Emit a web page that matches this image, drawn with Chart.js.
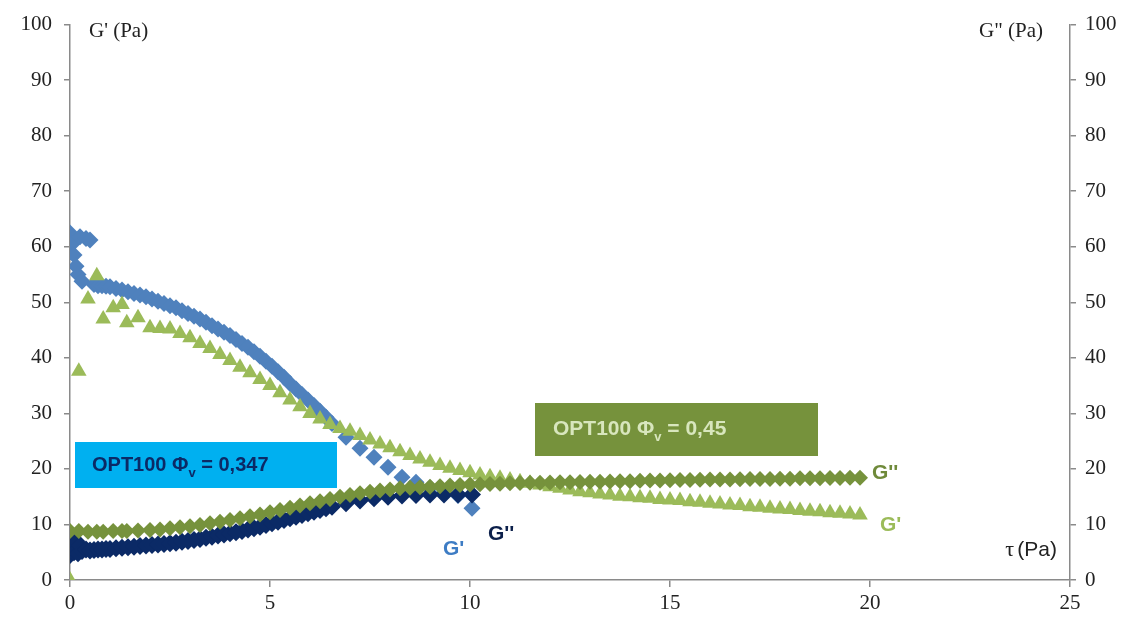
<!DOCTYPE html>
<html>
<head>
<meta charset="utf-8">
<script src="https://cdn.jsdelivr.net/npm/chart.js@4.4.1/dist/chart.umd.min.js"></script>
<style>
  html, body { margin: 0; padding: 0; background: #fff; }
  #wrap { width: 1137px; height: 626px; }
</style>
</head>
<body>
<div id="wrap"><canvas id="chartModulos" width="1137" height="626"></canvas></div>
<script>
// =========================================================
// DATOS
// =========================================================
// OPT100 Φv = 0,347
const tauA = [0, 0.05, 0.1, 0.15, 0.2, 0.25, 0.3, 0.4, 0.5, 0.6, 0.7, 0.8, 0.9, 1.0,
  1.15, 1.3, 1.45, 1.6, 1.75, 1.9, 2.05, 2.2, 2.35, 2.5, 2.65, 2.8, 2.95, 3.1, 3.25,
  3.4, 3.55, 3.7, 3.85, 4.0, 4.15, 4.3, 4.45, 4.6, 4.75, 4.9, 5.05, 5.2, 5.35, 5.5,
  5.65, 5.8, 5.95, 6.1, 6.25, 6.4, 6.55, 6.9, 7.25, 7.6, 7.95, 8.3, 8.65, 9.0, 9.35,
  9.7, 10.05];
const gPrimaA = [62.5, 60.5, 58.5, 56.5, 55, 61.8, 53.8, 61.5, 61.2, 53.2, 53, 53, 52.9, 52.8,
  52.5, 52.2, 51.9, 51.6, 51.3, 51, 50.6, 50.2, 49.8, 49.4, 49, 48.5, 48, 47.5, 47,
  46.4, 45.8, 45.2, 44.6, 44, 43.3, 42.6, 41.9, 41.1, 40.3, 39.4, 38.5, 37.5, 36.5, 35.4,
  34.4, 33.4, 32.4, 31.4, 30.4, 29.3, 28.2, 25.7, 23.7, 22.1, 20.3, 18.5, 17.6, 16.6, 15.8,
  15.2, 12.9];
const gSegA = [4.5, 6.5, 5, 7, 4.8, 6.2, 5.2, 5.5, 5.3, 5.4, 5.5, 5.5, 5.6, 5.6,
  5.7, 5.8, 5.9, 6.0, 6.1, 6.2, 6.3, 6.4, 6.5, 6.6, 6.7, 6.9, 7.0, 7.2, 7.4,
  7.6, 7.8, 8.0, 8.2, 8.4, 8.6, 8.8, 9.1, 9.3, 9.6, 9.9, 10.2, 10.5, 10.8, 11.1,
  11.4, 11.7, 12.0, 12.3, 12.6, 12.9, 13.2, 13.8, 14.3, 14.7, 15.0, 15.2, 15.3, 15.4, 15.4,
  15.4, 15.4];

// OPT100 Φv = 0,45
const tauB = [0, 0.22, 0.45, 0.67, 0.83, 1.08, 1.3, 1.42, 1.7, 2.0, 2.25, 2.5, 2.75, 3.0,
  3.25, 3.5, 3.75, 4.0, 4.25, 4.5, 4.75, 5.0, 5.25, 5.5, 5.75, 6.0, 6.25, 6.5, 6.75,
  7.0, 7.25, 7.5, 7.75, 8.0, 8.25, 8.5, 8.75, 9.0, 9.25, 9.5, 9.75, 10.0, 10.25, 10.5,
  10.75, 11.0, 11.25, 11.5, 11.75, 12.0, 12.25, 12.5, 12.75, 13.0, 13.25, 13.5, 13.75,
  14.0, 14.25, 14.5, 14.75, 15.0, 15.25, 15.5, 15.75, 16.0, 16.25, 16.5, 16.75, 17.0,
  17.25, 17.5, 17.75, 18.0, 18.25, 18.5, 18.75, 19.0, 19.25, 19.5, 19.75];
const gPrimaB = [0, 37.6, 50.6, 54.8, 47, 49, 49.6, 46.3, 47.2, 45.4, 45.3, 45.2, 44.4, 43.6,
  42.6, 41.7, 40.6, 39.5, 38.3, 37.3, 36.1, 35, 33.7, 32.4, 31.2, 30, 29, 28, 27.3,
  26.8, 26.0, 25.2, 24.5, 23.8, 23.1, 22.4, 21.8, 21.2, 20.6, 20.1, 19.7, 19.3, 18.9, 18.6,
  18.3, 18.0, 17.7, 17.4, 17.1, 16.8, 16.5, 16.2, 15.9, 15.7, 15.5, 15.3, 15.1,
  15.0, 14.8, 14.7, 14.5, 14.4, 14.3, 14.1, 14.0, 13.8, 13.7, 13.5, 13.4, 13.2,
  13.1, 12.9, 12.8, 12.7, 12.5, 12.4, 12.3, 12.1, 12.0, 11.9, 11.7];
const gSegB = [8.8, 8.8, 8.7, 8.7, 8.7, 8.8, 8.8, 8.8, 8.9, 9.0, 9.1, 9.3, 9.5, 9.7,
  9.9, 10.2, 10.5, 10.8, 11.1, 11.5, 11.8, 12.2, 12.6, 13.0, 13.4, 13.8, 14.2, 14.6, 15.0,
  15.3, 15.6, 15.9, 16.1, 16.3, 16.5, 16.6, 16.7, 16.8, 16.9, 17.0, 17.1, 17.2, 17.25, 17.3,
  17.35, 17.4, 17.45, 17.5, 17.5, 17.55, 17.6, 17.6, 17.65, 17.7, 17.7, 17.75, 17.8,
  17.8, 17.85, 17.9, 17.9, 17.95, 18.0, 18.0, 18.05, 18.1, 18.1, 18.1, 18.15, 18.2,
  18.2, 18.2, 18.25, 18.25, 18.3, 18.3, 18.3, 18.35, 18.35, 18.4, 18.4];

const ticksX = [0, 5, 10, 15, 20, 25];
const ticksY = [0, 10, 20, 30, 40, 50, 60, 70, 80, 90, 100];

// =========================================================
// HELPERS
// =========================================================
const pares = (xs, ys) => xs.map((x, i) => ({ x: x, y: ys[i] }));

const SERIF = '"Liberation Serif", "Times New Roman", serif';
const SANS  = '"Liberation Sans", Arial, sans-serif';

function ejeY(pos) {
    return {
        type: 'linear', position: pos, min: 0, max: 100,
        afterBuildTicks: s => { s.ticks = ticksY.map(v => ({ value: v })); },
        afterFit: s => { s.width = pos === 'left' ? 70 : 67; },
        grid: { drawOnChartArea: false, drawTicks: true, tickLength: 6, color: '#8a8a8a', lineWidth: 1.5 },
        border: { color: '#8a8a8a', width: 1.5 },
        ticks: { color: '#222', padding: pos === 'left' ? 12 : 9, font: { family: SERIF, size: 21 } }
    };
}

// textos y cajas de anotación
const anotaciones = {
    id: 'anotaciones',
    afterDatasetsDraw(chart) {
        const c = chart.ctx;
        c.save();
        c.textBaseline = 'middle';

        // caja cian Φv = 0,347
        c.fillStyle = '#00b0f0';
        c.fillRect(75, 442, 262, 46);
        c.fillStyle = '#0b2a66';
        c.font = 'bold 20px ' + SANS;
        c.textAlign = 'left';
        let x = 92;
        c.fillText('OPT100 Φ', x, 465);
        x += c.measureText('OPT100 Φ').width;
        c.font = 'bold 13px ' + SANS;
        c.fillText('v', x, 473);
        x += c.measureText('v').width;
        c.font = 'bold 20px ' + SANS;
        c.fillText(' = 0,347', x, 465);

        // caja verde Φv = 0,45
        c.fillStyle = '#76923c';
        c.fillRect(535, 403, 283, 53);
        c.fillStyle = '#d8e6bd';
        c.font = 'bold 21px ' + SANS;
        x = 553;
        c.fillText('OPT100 Φ', x, 429);
        x += c.measureText('OPT100 Φ').width;
        c.font = 'bold 13px ' + SANS;
        c.fillText('v', x, 437);
        x += c.measureText('v').width;
        c.font = 'bold 21px ' + SANS;
        c.fillText(' = 0,45', x, 429);

        // etiquetas de series
        c.font = 'bold 21px ' + SANS;
        c.fillStyle = '#3d7cc4'; c.fillText("G'", 443, 549);
        c.fillStyle = '#0b1f4a'; c.fillText("G''", 488, 534);
        c.fillStyle = '#6f8a3a'; c.fillText("G''", 872, 473);
        c.fillStyle = '#9bbb59'; c.fillText("G'", 880, 525);

        // títulos de ejes
        c.fillStyle = '#222';
        c.font = '21px ' + SERIF;
        c.fillText("G' (Pa)", 89, 31);
        c.textAlign = 'right';
        c.fillText('G" (Pa)', 1043, 31);
        c.font = '21px ' + SANS;
        c.fillText('(Pa)', 1057, 550);
        c.font = '22px ' + SERIF;
        c.fillText('τ', 1014, 550);
        c.restore();
    }
};

// =========================================================
// GRÁFICO
// =========================================================
const chartModulos = new Chart(document.getElementById('chartModulos'), {
    type: 'scatter',
    data: {
        datasets: [
            { label: "G'' 0,45",  data: pares(tauB, gSegB),   yAxisID: 'y2', order: 0,
              pointStyle: 'rectRot',  pointRadius: 8, backgroundColor: '#76923c', borderColor: '#76923c', borderWidth: 0 },
            { label: "G' 0,45",   data: pares(tauB, gPrimaB), yAxisID: 'y',  order: 1,
              pointStyle: 'triangle', pointRadius: 9, backgroundColor: '#9bbb59', borderColor: '#9bbb59', borderWidth: 0 },
            { label: "G'' 0,347", data: pares(tauA, gSegA),   yAxisID: 'y2', order: 2,
              pointStyle: 'rectRot',  pointRadius: 9, backgroundColor: '#0b2a66', borderColor: '#0b2a66', borderWidth: 0 },
            { label: "G' 0,347",  data: pares(tauA, gPrimaA), yAxisID: 'y',  order: 3,
              pointStyle: 'rectRot',  pointRadius: 8.5, backgroundColor: '#4f81bd', borderColor: '#4f81bd', borderWidth: 0 }
        ]
    },
    options: {
        responsive: false,
        animation: false,
        layout: { padding: { top: 22, left: 0, right: 0, bottom: 0 } },
        plugins: { legend: { display: false }, tooltip: { enabled: false } },
        scales: {
            x: {
                type: 'linear', position: 'bottom', min: 0, max: 25,
                afterBuildTicks: s => { s.ticks = ticksX.map(v => ({ value: v })); },
                afterFit: s => { s.height = 46; },
                grid: { drawOnChartArea: false, drawTicks: true, tickLength: 7, color: '#8a8a8a', lineWidth: 1.5 },
                border: { color: '#8a8a8a', width: 1.5 },
                ticks: { color: '#222', padding: 4, maxRotation: 0, font: { family: SERIF, size: 21 } }
            },
            y:  ejeY('left'),
            y2: ejeY('right')
        }
    },
    plugins: [anotaciones]
});
</script>
</body>
</html>
